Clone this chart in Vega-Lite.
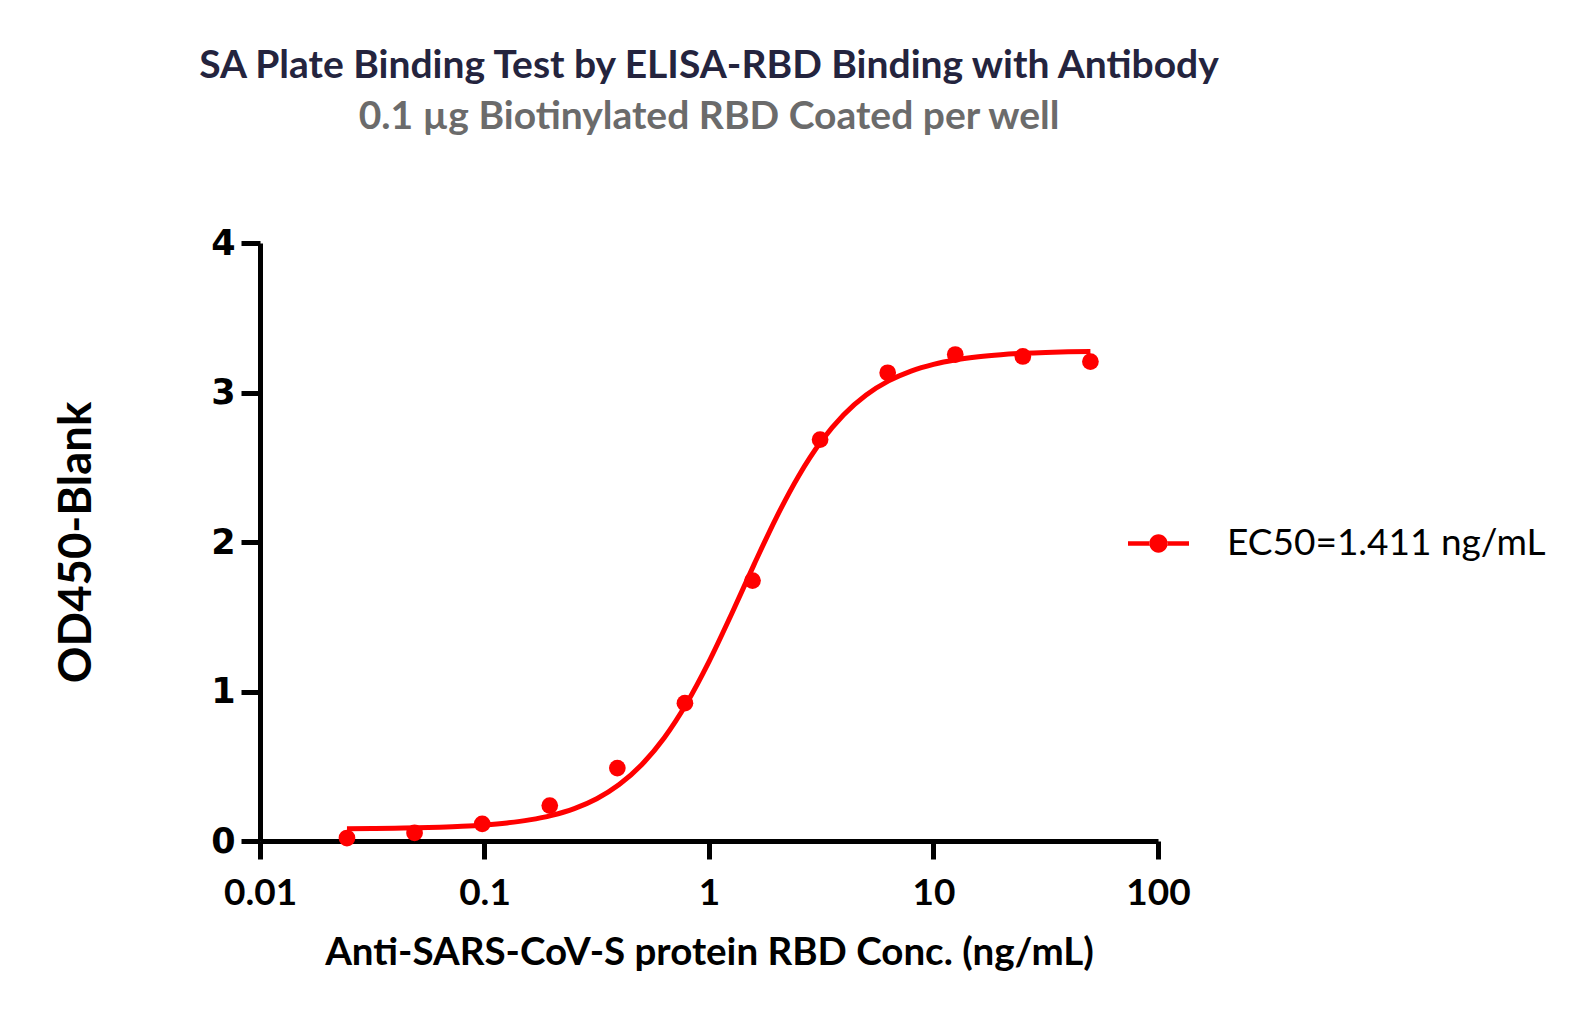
{
  "$schema": "https://vega.github.io/schema/vega-lite/v6.json",
  "autosize": "none",
  "width": 898,
  "height": 598,
  "padding": {"left": 260, "top": 243, "right": 430, "bottom": 179},
  "background": "white",
  "config": {
    "view": {"stroke": null},
    "axis": {"grid": false}
  },
  "title": {
    "text": "SA Plate Binding Test by ELISA-RBD Binding with Antibody",
    "subtitle": "0.1 µg Biotinylated RBD Coated per well",
    "anchor": "middle",
    "font": "Lato",
    "fontSize": 39,
    "fontWeight": "bold",
    "color": "#24243e",
    "subtitleFont": "Lato",
    "subtitleFontSize": 39,
    "subtitleFontWeight": "bold",
    "subtitleColor": "#6b6b6b",
    "subtitlePadding": 12,
    "offset": 89
  },
  "datasets": {
    "points": [
      {"conc": 0.0244, "od": 0.02, "series": "EC50=1.411 ng/mL"},
      {"conc": 0.0488, "od": 0.054, "series": "EC50=1.411 ng/mL"},
      {"conc": 0.0977, "od": 0.115, "series": "EC50=1.411 ng/mL"},
      {"conc": 0.1953, "od": 0.237, "series": "EC50=1.411 ng/mL"},
      {"conc": 0.3906, "od": 0.488, "series": "EC50=1.411 ng/mL"},
      {"conc": 0.7813, "od": 0.922, "series": "EC50=1.411 ng/mL"},
      {"conc": 1.5625, "od": 1.742, "series": "EC50=1.411 ng/mL"},
      {"conc": 3.125, "od": 2.685, "series": "EC50=1.411 ng/mL"},
      {"conc": 6.25, "od": 3.132, "series": "EC50=1.411 ng/mL"},
      {"conc": 12.5, "od": 3.254, "series": "EC50=1.411 ng/mL"},
      {"conc": 25, "od": 3.241, "series": "EC50=1.411 ng/mL"},
      {"conc": 50, "od": 3.207, "series": "EC50=1.411 ng/mL"}
    ],
    "curve": [
      {"conc": 0.0244, "od": 0.0822},
      {"conc": 0.03162, "od": 0.0834},
      {"conc": 0.03981, "od": 0.0852},
      {"conc": 0.05012, "od": 0.0879},
      {"conc": 0.0631, "od": 0.0919},
      {"conc": 0.07943, "od": 0.0979},
      {"conc": 0.1, "od": 0.1071},
      {"conc": 0.1259, "od": 0.1208},
      {"conc": 0.1585, "od": 0.1413},
      {"conc": 0.1995, "od": 0.1719},
      {"conc": 0.2512, "od": 0.2171},
      {"conc": 0.3162, "od": 0.2831},
      {"conc": 0.3981, "od": 0.3778},
      {"conc": 0.5012, "od": 0.51},
      {"conc": 0.631, "od": 0.689},
      {"conc": 0.7943, "od": 0.9194},
      {"conc": 1, "od": 1.1997},
      {"conc": 1.259, "od": 1.5167},
      {"conc": 1.585, "od": 1.847},
      {"conc": 1.995, "od": 2.1635},
      {"conc": 2.512, "od": 2.4434},
      {"conc": 3.162, "od": 2.6733},
      {"conc": 3.981, "od": 2.8517},
      {"conc": 5.012, "od": 2.9834},
      {"conc": 6.31, "od": 3.0777},
      {"conc": 7.943, "od": 3.1434},
      {"conc": 10, "od": 3.1885},
      {"conc": 12.59, "od": 3.2189},
      {"conc": 15.85, "od": 3.2394},
      {"conc": 19.95, "od": 3.2531},
      {"conc": 25.12, "od": 3.2621},
      {"conc": 31.62, "od": 3.2682},
      {"conc": 39.81, "od": 3.2722},
      {"conc": 50, "od": 3.2748}
    ]
  },
  "layer": [
    {
      "data": {"name": "curve"},
      "mark": {"type": "line", "color": "#ff0000", "strokeWidth": 5, "interpolate": "monotone"},
      "encoding": {
        "x": {
          "field": "conc",
          "type": "quantitative",
          "scale": {"type": "log", "domain": [0.01, 100], "nice": false},
          "axis": {
            "title": "Anti-SARS-CoV-S protein RBD Conc. (ng/mL)",
            "values": [0.01, 0.1, 1, 10, 100],
            "format": "~g",
            "domainColor": "black",
            "domainWidth": 5,
            "tickColor": "black",
            "tickWidth": 5,
            "tickSize": 18,
            "labelFont": "Lato",
            "labelFontSize": 37,
            "labelFontWeight": "bold",
            "labelColor": "black",
            "labelPadding": 16,
            "labelFlush": false,
            "titleFont": "Lato",
            "titleFontSize": 38.5,
            "titleFontWeight": "bold",
            "titleColor": "black",
            "titleBaseline": "alphabetic",
            "titleY": 123
          }
        },
        "y": {
          "field": "od",
          "type": "quantitative",
          "scale": {"domain": [0, 4], "nice": false},
          "axis": {
            "title": "OD450-Blank",
            "values": [0, 1, 2, 3, 4],
            "format": "d",
            "domainColor": "black",
            "domainWidth": 5,
            "tickColor": "black",
            "tickWidth": 5,
            "tickSize": 19,
            "labelFont": "DejaVu Sans",
            "labelFontSize": 35,
            "labelFontWeight": "bold",
            "labelColor": "black",
            "labelPadding": 6,
            "labelFlush": false,
            "titleFont": "Lato",
            "titleFontSize": 45.5,
            "titleFontWeight": "bold",
            "titleColor": "black",
            "titleAngle": -90,
            "titleAlign": "center",
            "titleBaseline": "middle",
            "titleX": -184,
            "titleY": 299
          }
        }
      }
    },
    {
      "data": {"name": "points"},
      "mark": {"type": "point", "filled": true, "opacity": 1, "size": 280},
      "encoding": {
        "x": {"field": "conc", "type": "quantitative"},
        "y": {"field": "od", "type": "quantitative"},
        "color": {
          "field": "series",
          "type": "nominal",
          "scale": {"range": ["#ff0000"]},
          "legend": {
            "title": null,
            "orient": "none",
            "legendX": 868,
            "legendY": 270,
            "symbolType": "M-1,-0.075L-0.29,-0.075L-0.29,0.075L-1,0.075Z M0.29,-0.075L1,-0.075L1,0.075L0.29,0.075Z M-0.3,0A0.3,0.3 0 1,0 0.3,0A0.3,0.3 0 1,0 -0.3,0Z",
            "symbolSize": 3721,
            "symbolStrokeWidth": 0,
            "symbolFillColor": "#ff0000",
            "symbolOpacity": 1,
            "labelFont": "Lato",
            "labelFontSize": 37,
            "labelColor": "black",
            "labelOffset": 38,
            "labelLimit": 600
          }
        }
      }
    }
  ]
}
